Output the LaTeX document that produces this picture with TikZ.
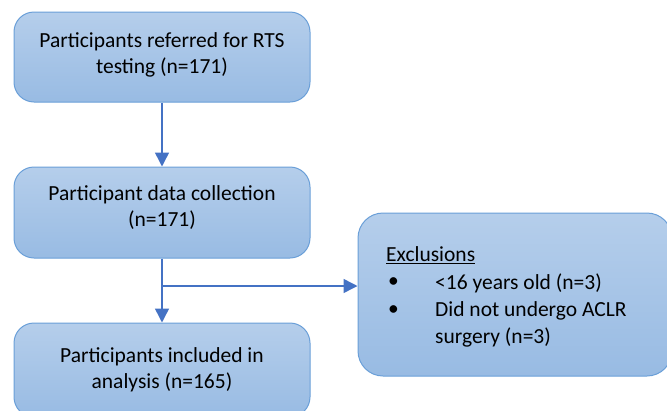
\documentclass[tikz,border=0pt]{standalone}
\usepackage{fontspec}
\setmainfont{Carlito}
\usetikzlibrary{arrows.meta}
\definecolor{boxtop}{HTML}{B5CEEB}
\definecolor{boxbot}{HTML}{98BBE3}
\definecolor{boxline}{HTML}{6A9FD8}
\definecolor{arrcol}{HTML}{4472C4}
\tikzset{
  flowbox/.style={draw=boxline, line width=1pt, rounded corners=20pt, top color=boxtop, bottom color=boxbot, minimum width=296pt, inner sep=0pt},
  txt/.style={font=\fontsize{21.5}{26}\selectfont, align=center, inner sep=0pt},
  ltxt/.style={font=\fontsize{21.5}{26}\selectfont, anchor=west, inner sep=0pt},
  arr/.style={draw=arrcol, line width=1.5pt, -{Triangle[width=14pt,length=14pt]}},
}
\begin{document}
\begin{tikzpicture}[x=1pt,y=-1pt]
\useasboundingbox (0,0) rectangle (667,410);
\node[flowbox, minimum height=90pt] (top) at (162,57) {};
\node[flowbox, minimum height=91pt] (mid) at (162,212.5) {};
\node[flowbox, minimum height=94pt] (bot) at (162,370) {};
\node[flowbox, minimum width=314pt, minimum height=163pt, rounded corners=25pt] (excl) at (515,294.5) {};
\node[txt] (t1) at (162,55) {Participants referred for RTS\\testing (n=171)};
\node[txt] (t2) at (162,208) {Participant data collection\\(n=171)};
\node[txt] (t3) at (162,370) {Participants included in\\analysis (n=165)};
\node[ltxt] (e0) at (386,255) {\underline{Exclusions}};
\node[ltxt] (e1) at (388,283) {•};
\node[ltxt] (e1t) at (435,283) {<16 years old (n=3)};
\node[ltxt] (e2) at (388,311) {•};
\node[ltxt] (e2t) at (435,311) {Did not undergo ACLR};
\node[ltxt] (e3t) at (435,337) {surgery (n=3)};
\draw[arr] (top.south) -- (mid.north);
\draw[arr] (mid.south) -- (bot.north);
\coordinate (j) at (162,286);
\draw[arr] (j) -- (j -| excl.west);
\end{tikzpicture}
\end{document}
